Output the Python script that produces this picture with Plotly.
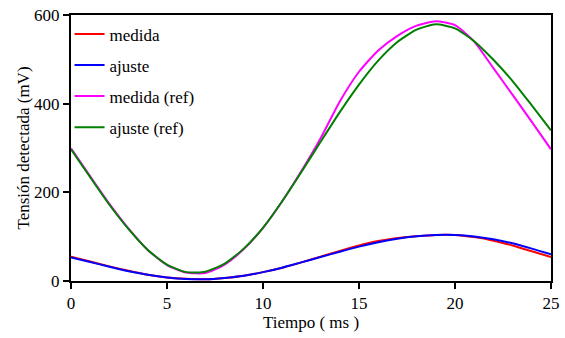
import plotly.graph_objects as go

tiempo = list(range(0, 26))

medida = [55, 44, 33, 23, 14, 8, 5, 4, 7, 12, 20, 30, 42, 55, 68, 80, 90, 97, 101, 104,
          104, 99, 91, 80, 67, 54]
ajuste = [53, 43, 32, 22, 14, 8, 4.5, 4, 7, 12, 20, 30, 42, 54, 66, 77.5, 87.5, 95.5, 101, 104,
          104, 100.5, 94, 85, 73, 60]
medida_ref = [299, 236, 174, 118, 70, 36, 19, 18, 37, 72, 120, 180, 248, 322, 405, 472, 520, 553, 576, 586,
              577, 540, 480, 420, 359, 297]
ajuste_ref = [297, 234, 172, 117, 70, 37, 20, 21, 39, 73, 120, 180, 246, 314, 381, 443, 497, 539, 567, 579,
              570, 541, 499, 451, 396, 340]

series = [
    ("medida", medida, "#ff0000"),
    ("ajuste", ajuste, "#0000ff"),
    ("medida (ref)", medida_ref, "#ff00ff"),
    ("ajuste (ref)", ajuste_ref, "#008000"),
]

FONT = "Liberation Serif, Times New Roman, serif"
FS = 17

fig = go.Figure()
for name, vals, col in series:
    fig.add_trace(go.Scatter(
        x=tiempo, y=vals, mode="lines", name=name,
        line=dict(color=col, width=2, shape="spline", smoothing=0.6),
        legendgroup=name,
    ))

fig.update_layout(
    width=565, height=338,
    margin=dict(l=71, r=14, t=15, b=57, autoexpand=False),
    paper_bgcolor="white", plot_bgcolor="white",
    font=dict(family=FONT, size=FS, color="black"),
    showlegend=True,
    legend=dict(
        x=-0.003, y=0.995, xanchor="left", yanchor="top",
        bgcolor="rgba(0,0,0,0)", borderwidth=0,
        font=dict(family=FONT, size=FS, color="black"),
        traceorder="grouped", tracegroupgap=6, itemwidth=30,
    ),
    xaxis=dict(
        range=[0, 25], tickmode="linear", tick0=0, dtick=5,
        showgrid=False, zeroline=False, automargin=False,
        showline=True, linecolor="black", linewidth=2, mirror=True,
        ticks="outside", ticklen=6, tickwidth=1.5, tickcolor="black",
        tickfont=dict(family=FONT, size=FS, color="black"),
        title=dict(text="Tiempo ( ms )", font=dict(family=FONT, size=FS, color="black"), standoff=2),
    ),
    yaxis=dict(
        range=[0, 600], tickmode="linear", tick0=0, dtick=200,
        showgrid=False, zeroline=False, automargin=False,
        showline=True, linecolor="black", linewidth=2, mirror=True,
        ticks="outside", ticklen=6, tickwidth=1.5, tickcolor="black",
        tickfont=dict(family=FONT, size=FS, color="black"),
        title=dict(text="Tensión detectada (mV)", font=dict(family=FONT, size=FS, color="black"), standoff=0),
    ),
)

fig.write_html("out.html")
